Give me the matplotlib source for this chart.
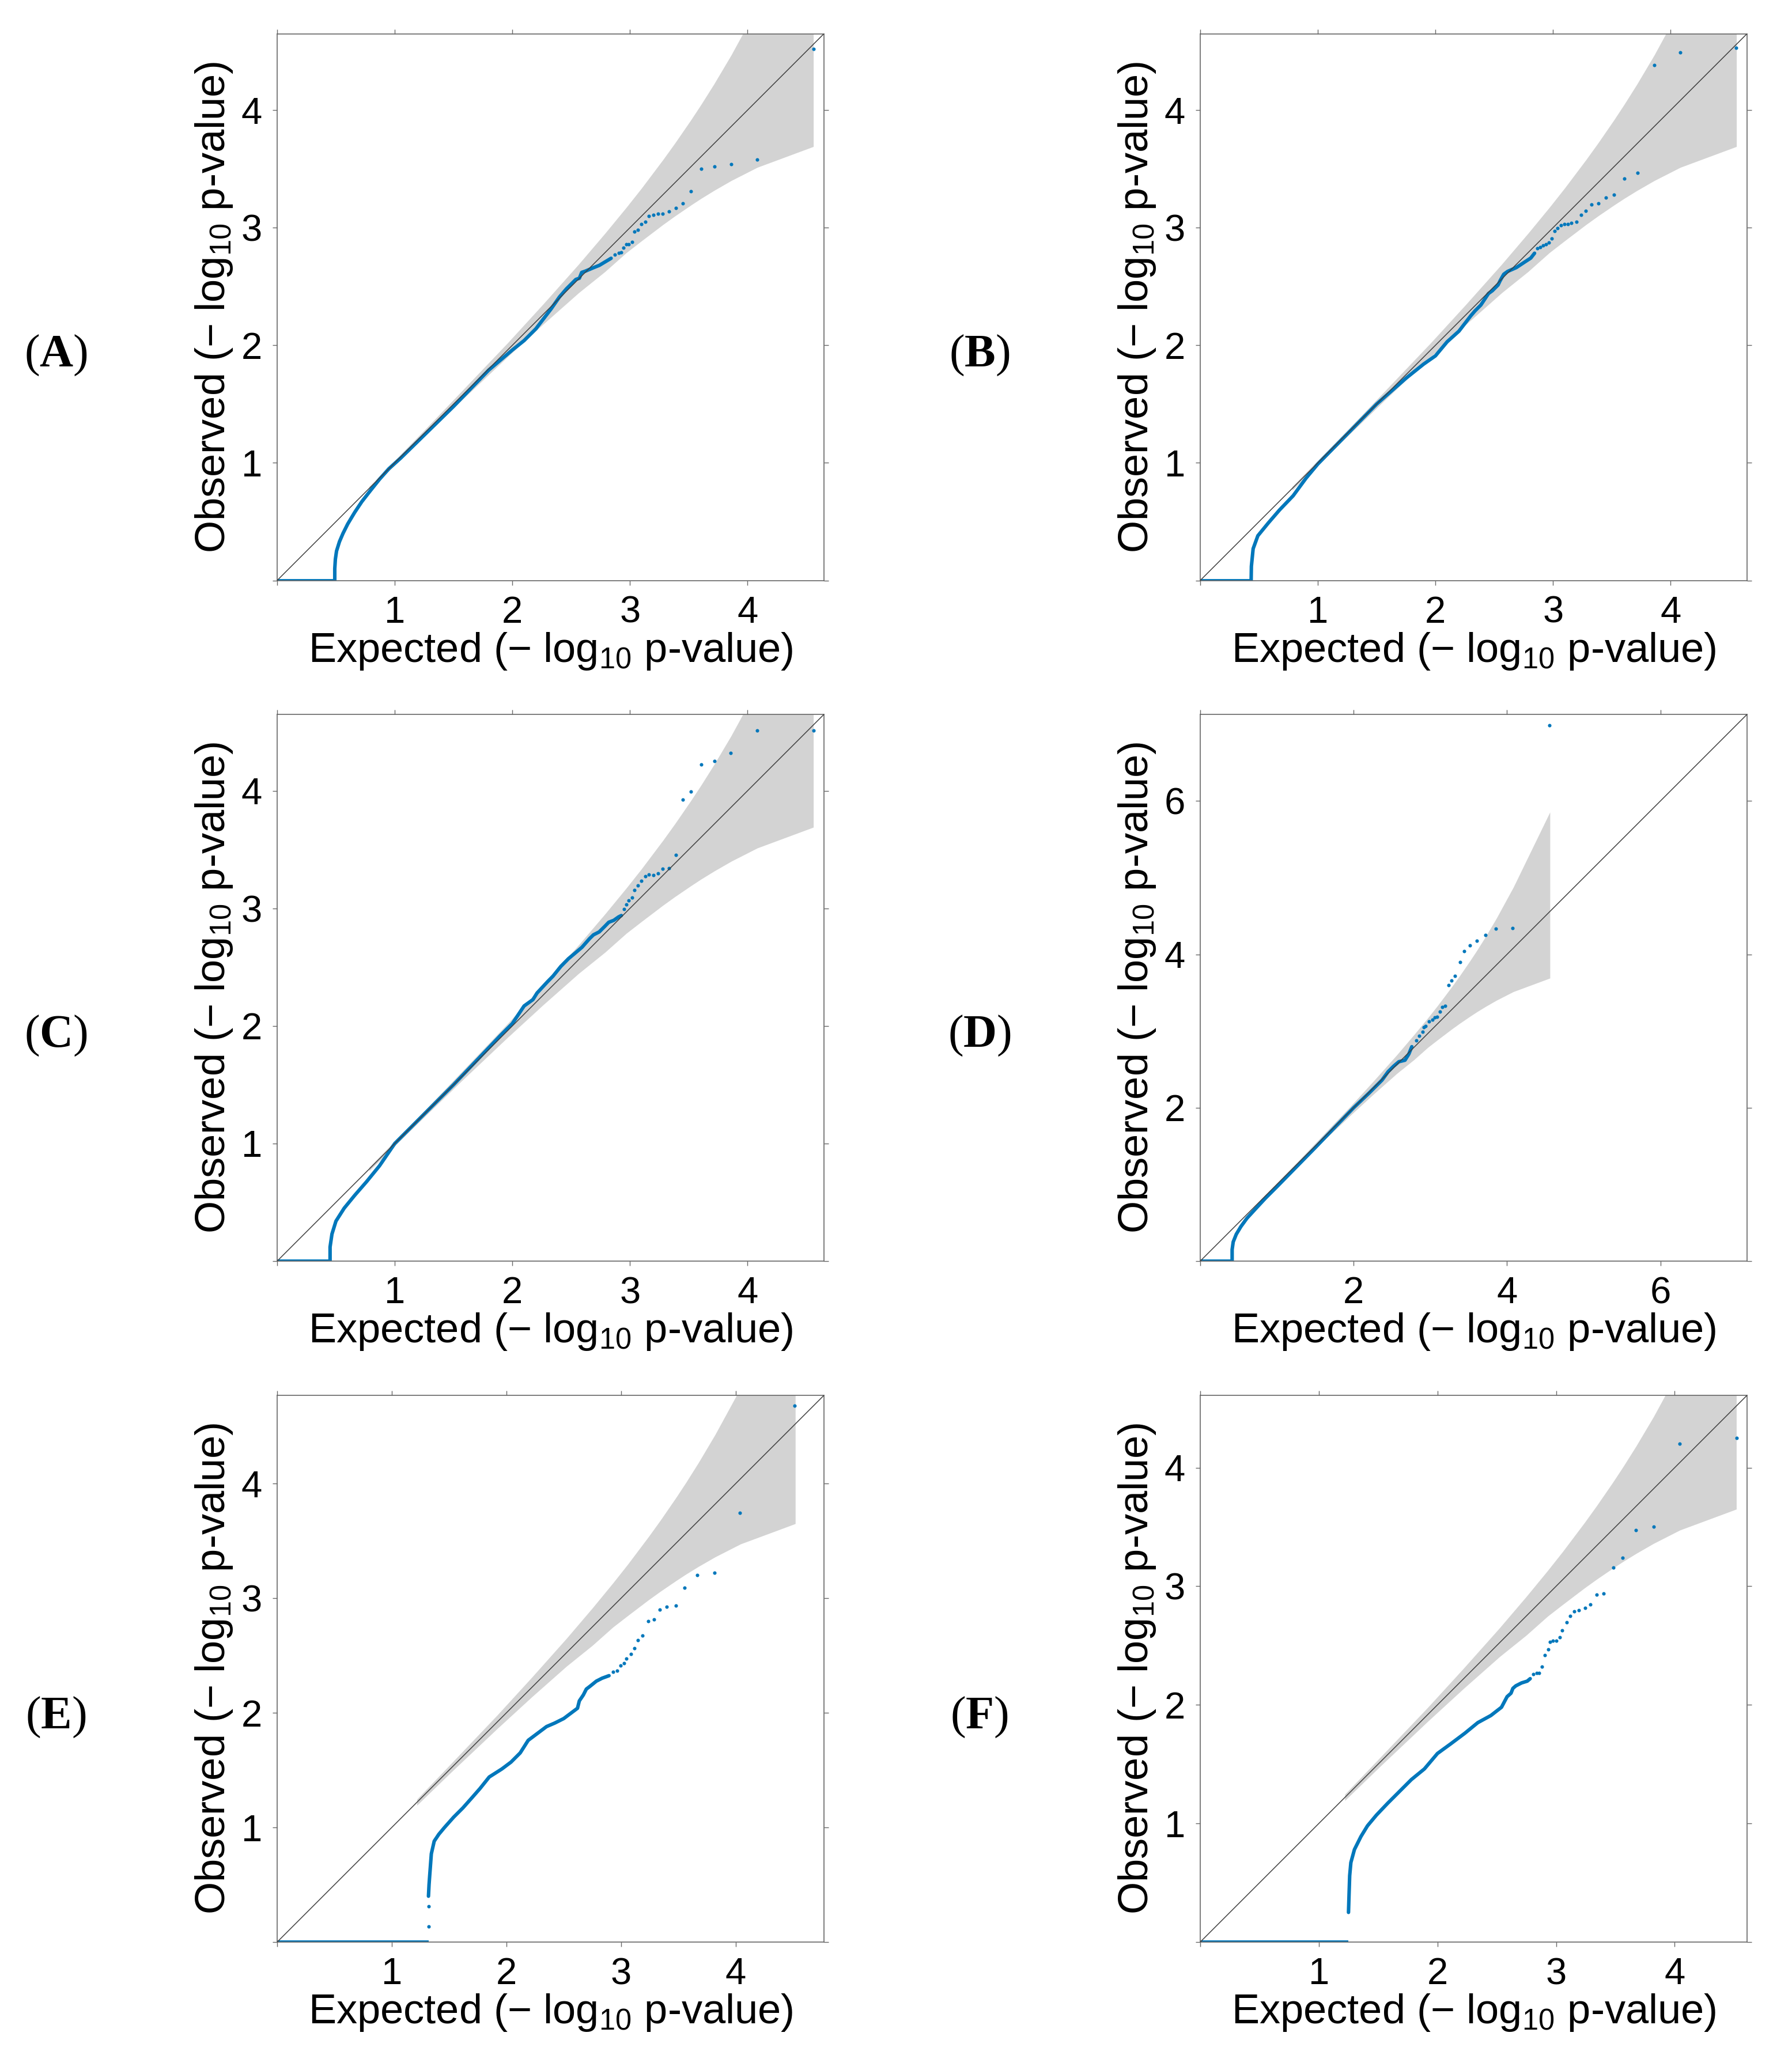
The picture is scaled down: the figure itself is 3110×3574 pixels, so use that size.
import matplotlib
matplotlib.use('Agg')
import matplotlib.pyplot as plt

plt.rcParams['font.family'] = ['Liberation Sans', 'DejaVu Sans']
plt.rcParams['mathtext.fontset'] = 'custom'
plt.rcParams['mathtext.rm'] = 'Liberation Sans'
plt.rcParams['mathtext.it'] = 'Liberation Sans:italic'
plt.rcParams['mathtext.bf'] = 'Liberation Serif:bold'

# ---------------- data ----------------
panel_names = ['A', 'B', 'C', 'D', 'E', 'F']
axis_limits = [4.65, 4.65, 4.65, 7.13, 4.77, 4.61]
zero_end = [0.49, 0.433, 0.45, 0.416, 1.32, 1.25]

# confidence band, panels A-D
band_x = [0.782, 1.259, 1.560, 1.959, 2.261, 2.564, 2.789, 2.969, 3.098, 3.281,
          3.384, 3.519, 3.606, 3.715, 3.861, 4.083, 4.560]
band_hi = [0.798, 1.286, 1.600, 2.019, 2.349, 2.689, 2.953, 3.172, 3.335, 3.578,
           3.721, 3.917, 4.049, 4.222, 4.468, 4.875, 5.856]
band_lo = [0.767, 1.233, 1.524, 1.901, 2.178, 2.446, 2.627, 2.787, 2.887, 3.026,
           3.100, 3.192, 3.249, 3.316, 3.400, 3.513, 3.690]
# confidence band, panels E-F
band2_x = [1.219, 1.520, 1.919, 2.221, 2.524, 2.749, 2.929, 3.058, 3.241, 3.344,
           3.479, 3.566, 3.675, 3.821, 4.043, 4.520]
band2_hi = [1.246, 1.560, 1.979, 2.309, 2.649, 2.913, 3.132, 3.295, 3.538, 3.681,
            3.877, 4.009, 4.182, 4.428, 4.835, 5.816]
band2_lo = [1.193, 1.484, 1.861, 2.138, 2.406, 2.587, 2.747, 2.847, 2.986, 3.060,
            3.152, 3.209, 3.276, 3.360, 3.473, 3.650]

A_curve_x = [0.49, 0.49, 0.495, 0.505, 0.53, 0.56, 0.60, 0.66, 0.72, 0.79, 0.87, 0.95,
             1.05, 1.50, 1.80, 2.00, 2.10, 2.20, 2.33, 2.40, 2.46, 2.50, 2.54, 2.57,
             2.59, 2.62, 2.69, 2.74, 2.79, 2.84]
A_curve_y = [0.00, 0.10, 0.18, 0.25, 0.33, 0.40, 0.48, 0.58, 0.67, 0.76, 0.86, 0.95,
             1.04, 1.48, 1.79, 1.96, 2.04, 2.14, 2.31, 2.41, 2.48, 2.52, 2.56, 2.57,
             2.62, 2.63, 2.66, 2.68, 2.71, 2.74]
A_tail_x = [2.870, 2.905, 2.927, 2.946, 2.967, 2.987, 3.018, 3.040, 3.069, 3.098, 3.129,
            3.159, 3.198, 3.239, 3.278, 3.330, 3.391, 3.451, 3.518, 3.608, 3.721, 3.861,
            4.080, 4.561]
A_tail_y = [2.772, 2.786, 2.789, 2.828, 2.861, 2.860, 2.881, 2.969, 2.980, 3.029, 3.049,
            3.101, 3.110, 3.119, 3.118, 3.137, 3.169, 3.209, 3.309, 3.499, 3.520, 3.539,
            3.580, 4.520]

B_curve_x = [0.433, 0.435, 0.45, 0.49, 0.58, 0.675, 0.79, 0.90, 1.00, 1.50, 1.75, 1.90,
             2.00, 2.10, 2.20, 2.30, 2.337, 2.386, 2.451, 2.484, 2.533, 2.549, 2.581,
             2.614, 2.688, 2.762, 2.811, 2.843]
B_curve_y = [0.00, 0.12, 0.27, 0.38, 0.49, 0.60, 0.72, 0.87, 0.99, 1.50, 1.72, 1.84,
             1.91, 2.03, 2.12, 2.25, 2.293, 2.342, 2.440, 2.464, 2.513, 2.547, 2.604,
             2.628, 2.661, 2.710, 2.742, 2.783]
B_tail_x = [2.868, 2.892, 2.917, 2.941, 2.966, 2.987, 3.016, 3.038, 3.069, 3.098, 3.127,
            3.157, 3.198, 3.237, 3.276, 3.327, 3.387, 3.449, 3.518, 3.608, 3.719, 3.860,
            4.080, 4.559]
B_tail_y = [2.824, 2.835, 2.848, 2.861, 2.873, 2.909, 2.973, 2.994, 3.021, 3.029, 3.032,
            3.040, 3.048, 3.110, 3.141, 3.198, 3.209, 3.258, 3.279, 3.420, 3.469, 4.381,
            4.489, 4.529]

C_curve_x = [0.45, 0.45, 0.466, 0.50, 0.57, 0.66, 0.76, 0.87, 1.00, 1.50, 1.90, 2.00,
             2.10, 2.175, 2.21, 2.298, 2.346, 2.412, 2.477, 2.526, 2.592, 2.657, 2.690,
             2.739, 2.788, 2.820, 2.862, 2.903, 2.927]
C_curve_y = [0.00, 0.12, 0.23, 0.34, 0.45, 0.56, 0.675, 0.81, 1.00, 1.50, 1.92, 2.02,
             2.17, 2.224, 2.28, 2.375, 2.424, 2.506, 2.572, 2.613, 2.669, 2.743, 2.775,
             2.800, 2.849, 2.882, 2.898, 2.927, 2.939]
C_tail_x = [2.948, 2.967, 2.987, 3.018, 3.040, 3.069, 3.098, 3.129, 3.159, 3.198, 3.239,
            3.278, 3.330, 3.389, 3.449, 3.518, 3.608, 3.719, 3.858, 4.080, 4.561]
C_tail_y = [2.993, 3.035, 3.066, 3.094, 3.156, 3.195, 3.236, 3.275, 3.287, 3.285, 3.297,
            3.335, 3.344, 3.453, 3.926, 3.994, 4.225, 4.254, 4.324, 4.515, 4.515]

D_curve_x = [0.416, 0.416, 0.43, 0.47, 0.53, 0.61, 0.72, 0.85, 1.00, 1.50, 2.00, 2.20,
             2.37, 2.45, 2.52, 2.59, 2.67, 2.72, 2.759]
D_curve_y = [0.00, 0.15, 0.25, 0.35, 0.45, 0.56, 0.68, 0.82, 0.97, 1.48, 2.00, 2.19,
             2.36, 2.47, 2.54, 2.60, 2.62, 2.70, 2.796]
D_tail_x = [2.815, 2.856, 2.898, 2.912, 2.940, 2.981, 3.025, 3.060, 3.088, 3.124, 3.157,
            3.196, 3.235, 3.277, 3.324, 3.385, 3.440, 3.513, 3.605, 3.716, 3.852, 4.074,
            4.552]
D_tail_y = [2.879, 2.934, 2.990, 3.053, 3.067, 3.128, 3.147, 3.175, 3.183, 3.252, 3.316,
            3.328, 3.600, 3.656, 3.717, 3.897, 4.045, 4.114, 4.175, 4.253, 4.334, 4.342,
            6.990]

E_curve_x = [1.32, 1.325, 1.33, 1.345, 1.37, 1.41, 1.46, 1.54, 1.62, 1.70, 1.77, 1.85,
             1.96, 2.04, 2.12, 2.19, 2.27, 2.35, 2.42, 2.50, 2.58, 2.62, 2.636, 2.671,
             2.697, 2.731, 2.784, 2.835, 2.895]
E_curve_y = [0.40, 0.50, 0.57, 0.77, 0.88, 0.94, 1.00, 1.09, 1.17, 1.26, 1.34, 1.44,
             1.51, 1.57, 1.65, 1.76, 1.82, 1.88, 1.91, 1.95, 2.01, 2.04, 2.104, 2.156,
             2.207, 2.233, 2.276, 2.302, 2.324]
E_tail_x = [1.320, 1.320, 2.930, 2.965, 2.996, 3.025, 3.046, 3.087, 3.116, 3.146, 3.185,
            3.236, 3.286, 3.336, 3.396, 3.476, 3.555, 3.666, 3.816, 4.034, 4.512]
E_tail_y = [0.134, 0.310, 2.357, 2.367, 2.413, 2.435, 2.473, 2.513, 2.563, 2.632, 2.672,
            2.801, 2.814, 2.902, 2.923, 2.933, 3.092, 3.201, 3.221, 3.745, 4.681]

F_curve_x = [1.25, 1.255, 1.26, 1.27, 1.30, 1.355, 1.41, 1.485, 1.58, 1.67, 1.78, 1.89,
             2.00, 2.11, 2.23, 2.34, 2.45, 2.54, 2.587, 2.620, 2.636, 2.660, 2.709,
             2.757, 2.782]
F_curve_y = [0.25, 0.41, 0.56, 0.67, 0.78, 0.89, 0.98, 1.07, 1.17, 1.26, 1.37, 1.46,
             1.59, 1.67, 1.76, 1.85, 1.91, 1.98, 2.069, 2.098, 2.139, 2.160, 2.185,
             2.200, 2.221]
F_tail_x = [2.806, 2.835, 2.858, 2.882, 2.903, 2.932, 2.950, 2.971, 3.002, 3.031, 3.053,
            3.092, 3.121, 3.152, 3.193, 3.243, 3.291, 3.341, 3.401, 3.482, 3.561, 3.672,
            3.822, 4.044, 4.521]
F_tail_y = [2.261, 2.267, 2.269, 2.320, 2.418, 2.469, 2.529, 2.539, 2.539, 2.570, 2.628,
            2.698, 2.748, 2.789, 2.798, 2.818, 2.848, 2.928, 2.938, 3.159, 3.238, 3.472,
            3.502, 4.202, 4.251]

ticks_main = [0, 1, 2, 3, 4]
ticks_d = [0, 2, 4, 6]

xlabel_text = r'Expected ($-$ log$_{10}$ p-value)'
ylabel_text = r'Observed ($-$ log$_{10}$ p-value)'

curves = {
    'A': (A_curve_x, A_curve_y, A_tail_x, A_tail_y),
    'B': (B_curve_x, B_curve_y, B_tail_x, B_tail_y),
    'C': (C_curve_x, C_curve_y, C_tail_x, C_tail_y),
    'D': (D_curve_x, D_curve_y, D_tail_x, D_tail_y),
    'E': (E_curve_x, E_curve_y, E_tail_x, E_tail_y),
    'F': (F_curve_x, F_curve_y, F_tail_x, F_tail_y),
}

# ---------------- layout / style ----------------
BLUE = '#0077BB'
BAND = '#D3D3D3'
SPINE = '#666666'

fig = plt.figure(figsize=(31.1, 35.74), dpi=100)
col_left = [0.15466, 0.66977]
row_bottom = [0.71810, 0.38752, 0.05680]
ax_w, ax_h = 0.30514, 0.26553
label_x = [0.0312, 0.5466]
label_y = [0.82737, 0.49692, 0.16592]

for k, name in enumerate(panel_names):
    r, c = divmod(k, 2)
    ax = fig.add_axes([col_left[c], row_bottom[r], ax_w, ax_h])
    lim = axis_limits[k]
    if name in ('E', 'F'):
        ax.fill_between(band2_x, band2_lo, band2_hi, color=BAND, lw=0, zorder=1)
    else:
        ax.fill_between(band_x, band_lo, band_hi, color=BAND, lw=0, zorder=1)
    cx, cy, tx, ty = curves[name]
    ax.plot([0, zero_end[k]], [0, 0], color=BLUE, lw=4.2, solid_capstyle='butt', zorder=2)
    ax.plot(cx, cy, color=BLUE, lw=4.4, solid_capstyle='round',
            solid_joinstyle='round', zorder=2)
    ax.plot(tx, ty, 'o', ms=4.4, color=BLUE, mec='none', zorder=2)
    ax.axline((0, 0), slope=1, color='#404040', lw=1.1, zorder=3)
    ax.set_xlim(0, lim)
    ax.set_ylim(0, lim)
    ticks = ticks_d if name == 'D' else ticks_main
    tlabels = [''] + [str(t) for t in ticks[1:]]
    ax.set_xticks(ticks)
    ax.set_xticklabels(tlabels)
    ax.set_yticks(ticks)
    ax.set_yticklabels(tlabels)
    ax.tick_params(direction='out', length=5.8, width=1.0, color=SPINE,
                   top=True, right=True, labelsize=47, pad=13)
    for s in ax.spines.values():
        s.set_color(SPINE)
        s.set_linewidth(1.2)
    ax.set_xlabel(xlabel_text, fontsize=52)
    ax.set_ylabel(ylabel_text, fontsize=52)
    ax.xaxis.set_label_coords(0.5, -0.092)
    ax.yaxis.set_label_coords(-0.078, 0.500)
    fig.text(label_x[c], label_y[r], r'($\mathbf{' + name + r'}$)',
             family='Liberation Serif', fontsize=58, ha='center', va='center')

fig.savefig('out.png', dpi=100)
